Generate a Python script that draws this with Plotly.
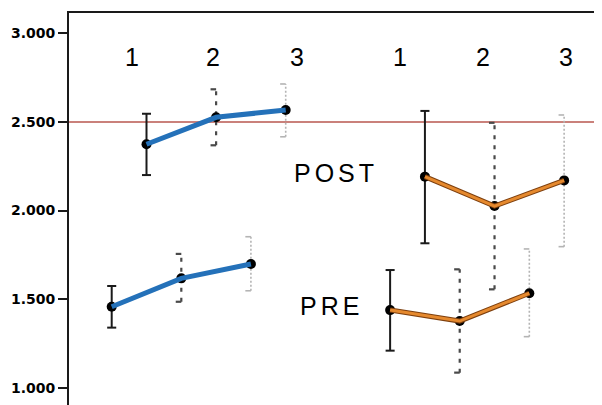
import plotly.graph_objects as go

# ---------------- data ----------------
time_points = [1, 2, 3]
time_labels = ["1", "2", "3"]

# x positions (category slots) of the means
blue_pre_x = [1, 2, 3]
blue_post_x = [1.5, 2.5, 3.5]
orange_pre_x = [5, 6, 7]
orange_post_x = [5.5, 6.5, 7.5]

blue_pre_mean = [1.457, 1.617, 1.698]
blue_pre_lo = [1.339, 1.485, 1.547]
blue_pre_hi = [1.574, 1.755, 1.852]

blue_post_mean = [2.374, 2.526, 2.567]
blue_post_lo = [2.200, 2.368, 2.416]
blue_post_hi = [2.546, 2.684, 2.714]

orange_pre_mean = [1.438, 1.376, 1.533]
orange_pre_lo = [1.209, 1.085, 1.288]
orange_pre_hi = [1.664, 1.668, 1.783]

orange_post_mean = [2.191, 2.025, 2.170]
orange_post_lo = [1.815, 1.555, 1.796]
orange_post_hi = [2.562, 2.495, 2.539]

reference_value = 2.5

left_label_x = [1.29, 2.46, 3.66]
right_label_x = [5.14, 6.34, 7.53]
label_y = 2.866

group_text = ["POST", "PRE"]
group_text_x = [4.22, 4.16]
group_text_y = [2.21, 1.461]

y_ticks = [1.0, 1.5, 2.0, 2.5, 3.0]

# ---------------- styles ----------------
BLUE = "#2471b9"
ORANGE = "#e5892e"
ORANGE_EDGE = "#7d3f0e"
REF = "#b9574f"
err_styles = [
    dict(color="#1a1a1a", dash="solid", width=2),
    dict(color="#4a4a4a", dash="4px,6px", width=2.2),
    dict(color="#b4b4b4", dash="2px,2px", width=1.6),
]
cap_solid = 0.065
cap_side = 0.08

fig = go.Figure()


def add_errorbars(xs, lo, hi):
    for i in range(len(xs)):
        st = err_styles[i]
        x = xs[i]
        fig.add_trace(go.Scatter(
            x=[x, x], y=[lo[i], hi[i]], mode="lines",
            line=dict(color=st["color"], dash=st["dash"], width=st["width"]),
            hoverinfo="skip", showlegend=False))
        if i == 0:
            cx = [x - cap_solid, x + cap_solid, None, x - cap_solid, x + cap_solid]
        else:
            cx = [x - cap_side, x, None, x - cap_side, x]
        fig.add_trace(go.Scatter(
            x=cx, y=[hi[i], hi[i], None, lo[i], lo[i]], mode="lines",
            line=dict(color=st["color"], width=st["width"]),
            hoverinfo="skip", showlegend=False))


for xs, lo, hi in [
    (blue_pre_x, blue_pre_lo, blue_pre_hi),
    (blue_post_x, blue_post_lo, blue_post_hi),
    (orange_pre_x, orange_pre_lo, orange_pre_hi),
    (orange_post_x, orange_post_lo, orange_post_hi),
]:
    add_errorbars(xs, lo, hi)

# markers
for xs, ys in [
    (blue_pre_x, blue_pre_mean), (blue_post_x, blue_post_mean),
    (orange_pre_x, orange_pre_mean), (orange_post_x, orange_post_mean),
]:
    fig.add_trace(go.Scatter(x=xs, y=ys, mode="markers",
                             marker=dict(color="black", size=10),
                             hoverinfo="skip", showlegend=False))

# lines
for xs, ys in [(blue_pre_x, blue_pre_mean), (blue_post_x, blue_post_mean)]:
    fig.add_trace(go.Scatter(x=xs, y=ys, mode="lines",
                             line=dict(color=BLUE, width=5),
                             hoverinfo="skip", showlegend=False))
for xs, ys in [(orange_pre_x, orange_pre_mean), (orange_post_x, orange_post_mean)]:
    fig.add_trace(go.Scatter(x=xs, y=ys, mode="lines",
                             line=dict(color=ORANGE_EDGE, width=5),
                             hoverinfo="skip", showlegend=False))
    fig.add_trace(go.Scatter(x=xs, y=ys, mode="lines",
                             line=dict(color=ORANGE, width=3),
                             hoverinfo="skip", showlegend=False))

# reference line
fig.add_shape(type="line", xref="paper", x0=0, x1=1, yref="y",
              y0=reference_value, y1=reference_value,
              line=dict(color=REF, width=1.5), layer="below")

annotations = []
for lx, t in zip(left_label_x + right_label_x, time_labels + time_labels):
    annotations.append(dict(x=lx, y=label_y, text=t, showarrow=False,
                            font=dict(family="Liberation Sans, Arial", size=25, color="black"),
                            xanchor="center", yanchor="middle"))
for t, gx, gy in zip(group_text, group_text_x, group_text_y):
    annotations.append(dict(x=gx, y=gy,
                            text='<span style="letter-spacing:4px">' + t + '</span>',
                            showarrow=False,
                            font=dict(family="Liberation Sans, Arial", size=25, color="black"),
                            xanchor="center", yanchor="middle"))

fig.update_layout(
    width=602, height=405,
    margin=dict(l=61, r=0, t=5, b=0),
    paper_bgcolor="white", plot_bgcolor="white",
    annotations=annotations,
    xaxis=dict(range=[0.3865, 8.159], showgrid=False, zeroline=False,
               showticklabels=False, ticks="", side="top",
               showline=True, linecolor="#1a1a1a", linewidth=2),
    yaxis=dict(range=[0.8572, 3.1146], showgrid=False, zeroline=False,
               tickvals=y_ticks, tickformat=".3f",
               ticks="outside", ticklen=9, tickwidth=2, tickcolor="#1a1a1a",
               showline=True, linecolor="#1a1a1a", linewidth=2,
               tickfont=dict(family="DejaVu Sans", size=14, color="black", weight="bold")),
)

fig.write_html("out.html")
